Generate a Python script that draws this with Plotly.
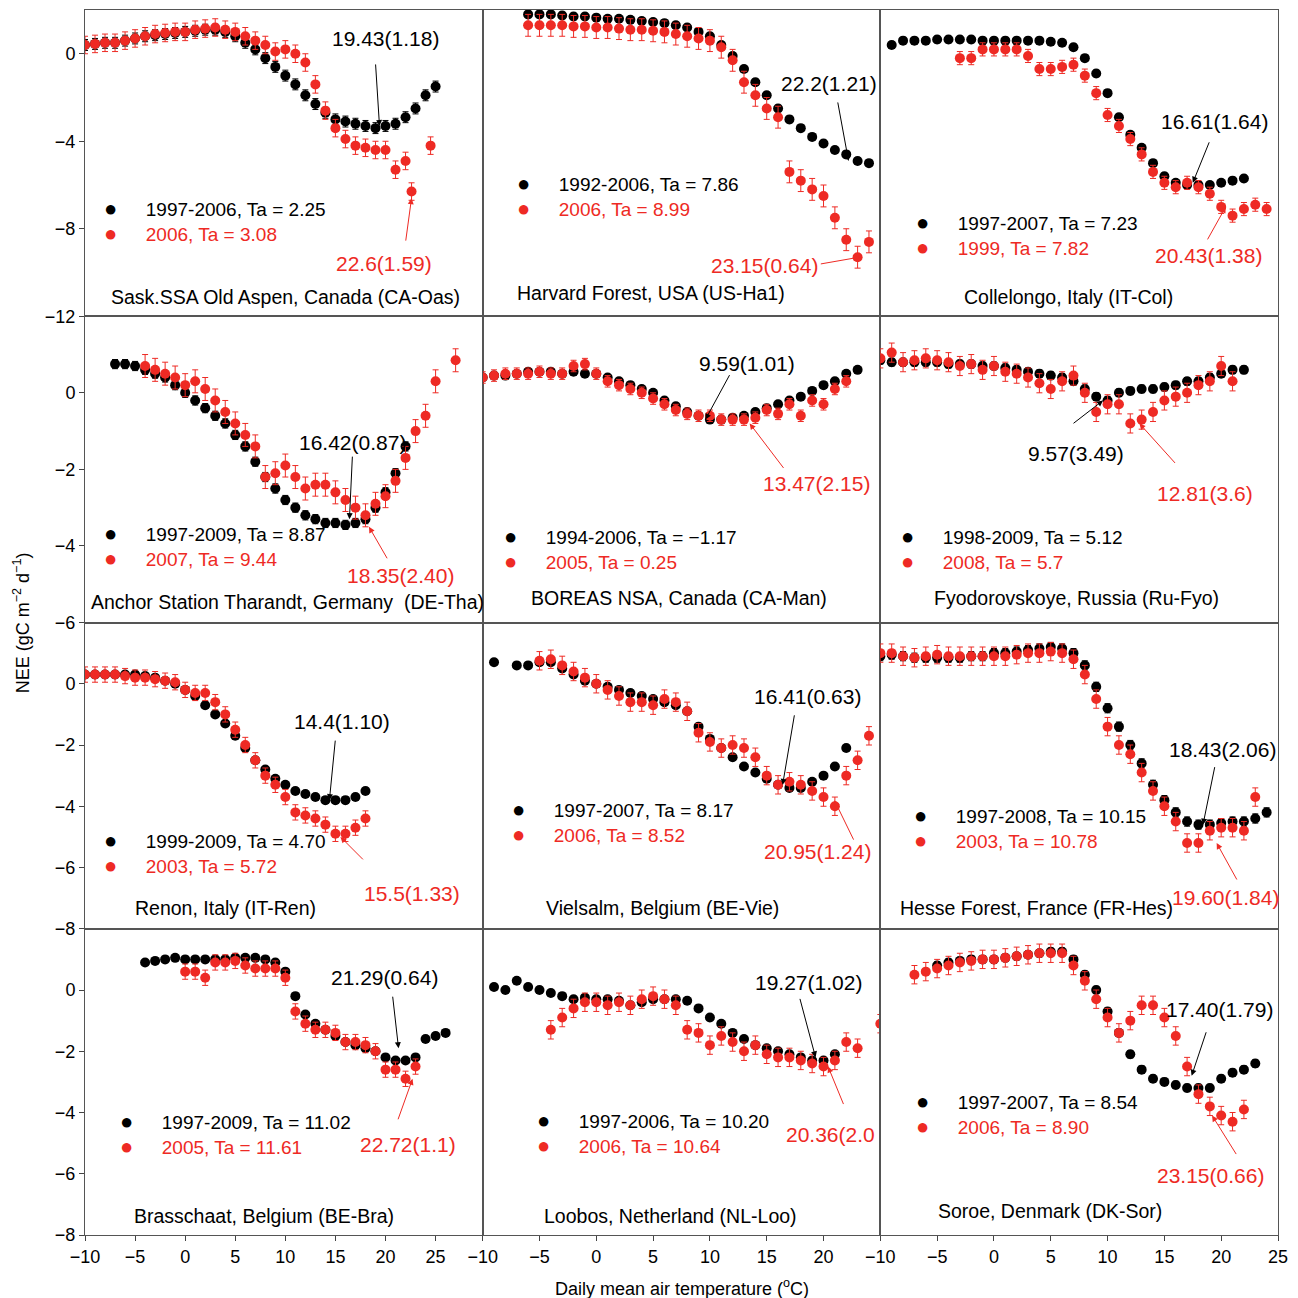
import plotly.graph_objects as go
from plotly.subplots import make_subplots

# ---------------- data (temperature bins, NEE means) ----------------
p1_bx = list(range(-10, 26))
p1_by = [0.4,0.45,0.5,0.5,0.6,0.7,0.8,0.85,0.9,0.95,1.0,1.05,1.1,1.1,1.0,0.8,0.5,0.2,-0.2,-0.6,-1.0,-1.4,-1.9,-2.3,-2.7,-3.0,-3.1,-3.2,-3.3,-3.4,-3.3,-3.2,-2.9,-2.5,-1.9,-1.5]
p1_rx = list(range(-10, 23)) + [22.6, 24.5]
p1_ry = [0.4,0.45,0.5,0.5,0.6,0.7,0.8,0.9,0.95,1.0,1.0,1.1,1.15,1.2,1.1,1.0,0.8,0.6,0.4,0.1,0.2,0.0,-0.4,-1.4,-2.6,-3.4,-3.9,-4.2,-4.3,-4.4,-4.4,-5.3,-4.9,-6.3,-4.2]

p2_bx = list(range(-6, 25))
p2_by = [1.8,1.8,1.8,1.75,1.7,1.7,1.65,1.6,1.6,1.55,1.5,1.45,1.4,1.3,1.2,1.0,0.8,0.4,-0.1,-0.7,-1.3,-1.9,-2.5,-3.0,-3.4,-3.8,-4.1,-4.4,-4.6,-4.9,-5.0]
p2_rx = list(range(-6, 25))
p2_ry = [1.3,1.3,1.3,1.3,1.25,1.25,1.2,1.2,1.15,1.1,1.1,1.05,1.0,0.9,0.8,0.7,0.6,0.3,-0.3,-1.3,-1.9,-2.5,-2.9,-5.4,-5.8,-6.2,-6.5,-7.5,-8.5,-9.3,-8.6]

p3_bx = list(range(-9, 23))
p3_by = [0.4,0.6,0.6,0.6,0.65,0.65,0.65,0.65,0.6,0.6,0.6,0.6,0.6,0.6,0.55,0.5,0.3,-0.2,-0.9,-1.8,-2.9,-3.7,-4.3,-5.0,-5.6,-5.9,-6.0,-6.0,-6.0,-5.9,-5.8,-5.7]
p3_rx = list(range(-3, 25))
p3_ry = [-0.2,-0.2,0.2,0.2,0.2,0.2,-0.1,-0.7,-0.7,-0.6,-0.5,-1.0,-1.8,-2.8,-3.3,-3.9,-4.6,-5.4,-5.9,-6.1,-5.9,-6.1,-6.4,-7.0,-7.4,-7.1,-6.9,-7.1]

p4_bx = list(range(-7, 23))
p4_by = [0.75,0.75,0.7,0.6,0.5,0.4,0.2,0.0,-0.2,-0.4,-0.6,-0.8,-1.1,-1.4,-1.8,-2.2,-2.5,-2.8,-3.0,-3.2,-3.3,-3.4,-3.4,-3.45,-3.4,-3.3,-3.0,-2.6,-2.1,-1.4]
p4_rx = list(range(-4, 26)) + [27]
p4_ry = [0.7,0.6,0.5,0.4,0.2,0.3,0.1,-0.2,-0.5,-0.8,-1.1,-1.4,-2.2,-2.1,-1.9,-2.2,-2.5,-2.4,-2.4,-2.6,-2.8,-3.0,-3.2,-2.9,-2.7,-2.3,-1.7,-1.0,-0.6,0.3,0.85]

p5_bx = list(range(-10, 24))
p5_by = [0.4,0.45,0.45,0.5,0.55,0.55,0.55,0.5,0.55,0.5,0.5,0.4,0.3,0.2,0.1,0.0,-0.2,-0.35,-0.5,-0.6,-0.7,-0.7,-0.65,-0.6,-0.5,-0.4,-0.3,-0.2,-0.1,0.05,0.2,0.3,0.5,0.6]
p5_rx = list(range(-10, 23))
p5_ry = [0.4,0.45,0.5,0.5,0.5,0.55,0.5,0.5,0.7,0.75,0.5,0.3,0.2,0.1,0.0,-0.15,-0.3,-0.45,-0.55,-0.6,-0.6,-0.7,-0.7,-0.7,-0.65,-0.45,-0.55,-0.3,-0.6,-0.2,-0.3,0.1,0.3]

p6_bx = list(range(-10, 23))
p6_by = [0.85,0.8,0.8,0.8,0.8,0.8,0.75,0.75,0.75,0.7,0.7,0.65,0.6,0.55,0.5,0.45,0.4,0.3,0.1,-0.1,-0.2,0.0,0.05,0.1,0.1,0.15,0.2,0.3,0.3,0.4,0.5,0.6,0.6]
p6_rx = list(range(-10, 22))
p6_ry = [0.9,1.05,0.8,0.85,0.9,0.85,0.8,0.7,0.75,0.6,0.7,0.55,0.5,0.4,0.25,0.1,0.3,0.45,0.0,-0.5,-0.3,-0.3,-0.8,-0.7,-0.5,-0.2,-0.1,0.0,0.2,0.3,0.7,0.3]

p7_bx = list(range(-10, 19))
p7_by = [0.3,0.3,0.3,0.3,0.3,0.3,0.25,0.2,0.1,0.0,-0.2,-0.4,-0.7,-1.0,-1.3,-1.7,-2.1,-2.5,-2.8,-3.1,-3.3,-3.5,-3.6,-3.7,-3.8,-3.8,-3.8,-3.7,-3.5]
p7_rx = list(range(-10, 19))
p7_ry = [0.3,0.3,0.3,0.3,0.25,0.2,0.2,0.15,0.1,0.05,-0.2,-0.3,-0.3,-0.6,-1.0,-1.5,-2.0,-2.5,-3.0,-3.3,-3.7,-4.2,-4.3,-4.4,-4.6,-4.9,-4.9,-4.7,-4.4]

p8_bx = [-9,-7,-6,-5,-4,-3,-2,-1,0,1,2,3,4,5,6,7,8,9,10,11,12,13,14,15,16,17,18,19,20,21,22]
p8_by = [0.7,0.6,0.6,0.7,0.7,0.5,0.3,0.1,0.0,-0.1,-0.2,-0.3,-0.4,-0.5,-0.6,-0.7,-0.9,-1.4,-1.8,-2.1,-2.4,-2.7,-2.9,-3.1,-3.3,-3.4,-3.4,-3.2,-3.0,-2.7,-2.1]
p8_rx = list(range(-5, 25))
p8_ry = [0.75,0.8,0.6,0.4,0.2,0.0,-0.2,-0.4,-0.6,-0.6,-0.7,-0.5,-0.6,-0.9,-1.6,-1.9,-2.1,-2.0,-2.1,-2.4,-3.0,-3.3,-3.2,-3.3,-3.5,-3.7,-4.0,-3.0,-2.5,-1.7]

p9_bx = list(range(-10, 25))
p9_by = [0.9,0.95,0.9,0.85,0.85,0.85,0.85,0.85,0.9,0.9,1.0,1.0,1.05,1.1,1.15,1.2,1.15,1.0,0.6,-0.1,-0.8,-1.4,-2.0,-2.6,-3.3,-3.8,-4.2,-4.5,-4.6,-4.6,-4.55,-4.5,-4.5,-4.4,-4.2]
p9_rx = list(range(-10, 24))
p9_ry = [1.0,1.0,0.9,0.85,0.9,0.95,0.9,0.9,0.9,0.9,0.9,0.9,0.95,1.0,1.0,1.05,1.0,0.8,0.3,-0.5,-1.4,-2.0,-2.3,-2.9,-3.5,-4.0,-4.5,-5.2,-5.2,-4.8,-4.7,-4.7,-4.8,-3.7]

p10_bx = list(range(-4, 27))
p10_by = [0.9,0.95,1.0,1.05,1.0,1.0,1.0,1.0,1.0,1.05,1.05,1.05,1.0,0.9,0.6,-0.2,-0.8,-1.1,-1.3,-1.5,-1.7,-1.8,-1.9,-2.0,-2.2,-2.3,-2.3,-2.2,-1.6,-1.5,-1.4]
p10_rx = list(range(0, 24))
p10_ry = [0.6,0.6,0.4,0.9,0.9,0.95,0.8,0.7,0.7,0.7,0.4,-0.7,-1.1,-1.3,-1.3,-1.4,-1.7,-1.7,-1.8,-2.0,-2.6,-2.6,-2.9,-2.5]

p11_bx = list(range(-9, 22))
p11_by = [0.1,0.0,0.3,0.1,0.0,-0.1,-0.2,-0.3,-0.25,-0.3,-0.3,-0.35,-0.5,-0.4,-0.3,-0.3,-0.3,-0.35,-0.6,-0.9,-1.1,-1.4,-1.6,-1.8,-1.9,-2.0,-2.1,-2.2,-2.3,-2.3,-2.1]
p11_rx = list(range(-4, 24)) + [25]
p11_ry = [-1.3,-0.9,-0.6,-0.4,-0.4,-0.5,-0.4,-0.5,-0.3,-0.2,-0.3,-0.5,-1.3,-1.4,-1.8,-1.5,-1.7,-2.0,-1.8,-2.1,-2.2,-2.2,-2.3,-2.4,-2.5,-2.3,-1.7,-1.9,-1.1]

p12_bx = list(range(-5, 24))
p12_by = [0.8,0.9,0.95,1.0,1.0,1.0,1.05,1.1,1.15,1.2,1.25,1.25,1.0,0.5,0.0,-0.7,-1.4,-2.1,-2.6,-2.9,-3.0,-3.1,-3.2,-3.2,-3.2,-2.9,-2.7,-2.6,-2.4]
p12_rx = list(range(-7, 23))
p12_ry = [0.5,0.6,0.7,0.8,0.9,0.95,1.0,1.0,1.05,1.1,1.15,1.2,1.2,1.2,0.8,0.3,-0.3,-0.9,-1.4,-1.0,-0.5,-0.5,-0.9,-1.5,-2.5,-3.4,-3.8,-4.1,-4.3,-3.9]

errors = [(0.25,0.4),(0.15,0.5),(0.15,0.3),(0.12,0.3),(0.08,0.15),(0.1,0.25),
          (0.1,0.25),(0.1,0.3),(0.15,0.3),(0.1,0.25),(0.1,0.3),(0.12,0.3)]

legend_black = ["1997-2006, Ta = 2.25","1992-2006, Ta = 7.86","1997-2007, Ta = 7.23",
                "1997-2009, Ta = 8.87","1994-2006, Ta = \u22121.17","1998-2009, Ta = 5.12",
                "1999-2009, Ta = 4.70","1997-2007, Ta = 8.17","1997-2008, Ta = 10.15",
                "1997-2009, Ta = 11.02","1997-2006, Ta = 10.20","1997-2007, Ta = 8.54"]
legend_red = ["2006, Ta = 3.08","2006, Ta = 8.99","1999, Ta = 7.82","2007, Ta = 9.44",
              "2005, Ta = 0.25","2008, Ta = 5.7","2003, Ta = 5.72","2006, Ta = 8.52",
              "2003, Ta = 10.78","2005, Ta = 11.61","2006, Ta = 10.64","2006, Ta = 8.90"]
site_labels = ["Sask.SSA Old Aspen, Canada (CA-Oas)","Harvard Forest, USA (US-Ha1)","Collelongo, Italy (IT-Col)",
               "Anchor Station Tharandt, Germany  (DE-Tha)","BOREAS NSA, Canada (CA-Man)","Fyodorovskoye, Russia (Ru-Fyo)",
               "Renon, Italy (IT-Ren)","Vielsalm, Belgium (BE-Vie)","Hesse Forest, France (FR-Hes)",
               "Brasschaat, Belgium (BE-Bra)","Loobos, Netherland (NL-Loo)","Soroe, Denmark (DK-Sor)"]
black_opt = ["19.43(1.18)","22.2(1.21)","16.61(1.64)","16.42(0.87)","9.59(1.01)","9.57(3.49)",
             "14.4(1.10)","16.41(0.63)","18.43(2.06)","21.29(0.64)","19.27(1.02)","17.40(1.79)"]
red_opt = ["22.6(1.59)","23.15(0.64)","20.43(1.38)","18.35(2.40)","13.47(2.15)","12.81(3.6)",
           "15.5(1.33)","20.95(1.24)","19.60(1.84)","22.72(1.1)","20.36(2.0","23.15(0.66)"]
black_head = [(19.4,-3.3),(22.2,-4.9),(17.5,-5.9),(16.4,-3.3),(9.6,-0.7),(9.6,-0.2),
              (14.4,-3.8),(16.4,-3.3),(18.4,-4.6),(21.3,-1.9),(19.3,-2.2),(17.4,-2.8)]
red_head = [(22.6,-6.6),(23.15,-9.3),(20.4,-7.0),(18.35,-3.5),(13.5,-0.8),(12.8,-0.8),
            (15.5,-5.0),(20.95,-3.8),(19.6,-5.2),(22.7,-2.9),(20.4,-2.5),(19.2,-4.1)]

series = [(p1_bx,p1_by,p1_rx,p1_ry),(p2_bx,p2_by,p2_rx,p2_ry),(p3_bx,p3_by,p3_rx,p3_ry),
          (p4_bx,p4_by,p4_rx,p4_ry),(p5_bx,p5_by,p5_rx,p5_ry),(p6_bx,p6_by,p6_rx,p6_ry),
          (p7_bx,p7_by,p7_rx,p7_ry),(p8_bx,p8_by,p8_rx,p8_ry),(p9_bx,p9_by,p9_rx,p9_ry),
          (p10_bx,p10_by,p10_rx,p10_ry),(p11_bx,p11_by,p11_rx,p11_ry),(p12_bx,p12_by,p12_rx,p12_ry)]

# ---------------- layout geometry (reference pixels) ----------------
COLS = [85, 482, 880, 1278]
ROWS = [10, 315, 622, 928, 1235]
bt_pos = [(385,38),(829,83),(1214,121),(352,442),(747,362),(1076,453),(342,721),(807,696),(1222,749),(384,977),(808,982),(1219,1009)]
b_off = [(-4,-63),(-11,-60),(17,-42),(3,-64),(25,-46),(-31,24),(6,-61),(12,-71),(12,-59),(-6,-53),(-16,-60),(15,-45)]
rt_pos = [(383,262),(764,264),(1208,254),(400,575),(816,483),(1205,493),(411,893),(817,851),(1225,897),(407,1144),(830,1134),(1210,1175)]
r_off = [(-6,44),(-40,7),(-19,34),(19,33),(35,46),(37,41),(24,24),(20,41),(21,38),(-15,42),(16,39),(25,40)]
leg_pos = [(110,220),(522,195),(922,234),(110,545),(509,548),(907,548),(110,852),(517,821),(920,827),(126,1134),(542,1133),(922,1114)]
lab_pos = [(285,296),(650,292),(1068,296),(287,601),(678,597),(1076,597),(225,907),(662,907),(1036,907),(264,1216),(670,1216),(1050,1211)]

RED = "#ee2a24"
FONT = "Liberation Sans"

fig = make_subplots(rows=4, cols=3, horizontal_spacing=0, vertical_spacing=0)

annotations = []
def dom(r, c, px, py):
    x0, x1 = COLS[c], COLS[c+1]
    y0, y1 = ROWS[r], ROWS[r+1]
    return (px - x0) / (x1 - x0), (y1 - py) / (y1 - y0)

for i, (bx, by, rx, ry) in enumerate(series):
    r, c = divmod(i, 3)
    eb, er = errors[i]
    fig.add_trace(go.Scatter(x=bx, y=by, mode="markers",
                             marker=dict(color="black", size=10),
                             error_y=dict(type="constant", value=eb, color="black", thickness=1, width=3),
                             showlegend=False), row=r+1, col=c+1)
    fig.add_trace(go.Scatter(x=rx, y=ry, mode="markers",
                             marker=dict(color=RED, size=10),
                             error_y=dict(type="constant", value=er, color=RED, thickness=1, width=3),
                             showlegend=False), row=r+1, col=c+1)
    n = i + 1
    xr = "x" if n == 1 else f"x{n}"
    yr = "y" if n == 1 else f"y{n}"
    for txt, pos, col in [(black_opt[i], bt_pos[i], "black"), (red_opt[i], rt_pos[i], RED)]:
        fx, fy = dom(r, c, *pos)
        annotations.append(dict(xref=f"{xr} domain", yref=f"{yr} domain", x=fx, y=fy,
                                xanchor="center", yanchor="middle",
                                text=txt, showarrow=False, font=dict(size=21, color=col, family=FONT)))
    for head, off, col in [(black_head[i], b_off[i], "black"), (red_head[i], r_off[i], RED)]:
        annotations.append(dict(xref=xr, yref=yr, x=head[0], y=head[1], ax=off[0], ay=off[1],
                                text="", showarrow=True, arrowhead=2, arrowsize=1.2,
                                arrowwidth=1, arrowcolor=col))
    lx, ly = leg_pos[i]
    fx, fy = dom(r, c, lx, ly)
    txt = (f"<span style='color:black'><span style='font-size:22px'>\u25cf</span>\u2003\u2002{legend_black[i]}</span><br>"
           f"<span style='color:{RED}'><span style='font-size:22px'>\u25cf</span>\u2003\u2002{legend_red[i]}</span>")
    annotations.append(dict(xref=f"{xr} domain", yref=f"{yr} domain", x=fx, y=fy,
                            xanchor="left", yanchor="middle", xshift=-8, align="left",
                            text=txt, showarrow=False, font=dict(size=19, family=FONT)))
    fx, fy = dom(r, c, *lab_pos[i])
    annotations.append(dict(xref=f"{xr} domain", yref=f"{yr} domain", x=fx, y=fy,
                            xanchor="center", yanchor="middle",
                            text=site_labels[i], showarrow=False,
                            font=dict(size=19.5, color="black", family=FONT)))

y_ranges = [[-12, 2], [-6, 2], [-8, 2], [-8, 2]]
y_ticks = [[0, -4, -8, -12], [0, -2, -4, -6], [0, -2, -4, -6, -8], [0, -2, -4, -6, -8]]
x_ranges = [[-10, 29.7], [-10, 25], [-10, 25]]
x_ticks = [[-10, -5, 0, 5, 10, 15, 20, 25], [-10, -5, 0, 5, 10, 15, 20], [-10, -5, 0, 5, 10, 15, 20, 25]]

def lab(v):
    return ("\u2212" + str(-v)) if v < 0 else str(v)

for r in range(4):
    for c in range(3):
        fig.update_yaxes(range=y_ranges[r], tickvals=y_ticks[r],
                         ticktext=[lab(v) for v in y_ticks[r]],
                         showticklabels=(c == 0), ticks="outside" if c == 0 else "",
                         ticklen=5, showgrid=False, zeroline=False, showline=True, mirror=True,
                         linecolor="#555", linewidth=1, row=r+1, col=c+1)
        fig.update_xaxes(range=x_ranges[c], tickvals=x_ticks[c],
                         ticktext=[lab(v) for v in x_ticks[c]],
                         showticklabels=(r == 3), ticks="outside" if r == 3 else "",
                         ticklen=5, showgrid=False, zeroline=False, showline=True, mirror=True,
                         linecolor="#555", linewidth=1, row=r+1, col=c+1)

annotations.append(dict(xref="paper", yref="paper", x=-0.053, y=0.5, textangle=-90,
                        xanchor="center", yanchor="middle",
                        text="NEE (gC m<sup>\u22122</sup> d<sup>\u22121</sup>)", showarrow=False,
                        font=dict(size=18, family=FONT)))
annotations.append(dict(xref="paper", yref="paper", x=0.5, y=-0.043, xanchor="center", yanchor="middle",
                        text="Daily mean air temperature (<sup>o</sup>C)", showarrow=False,
                        font=dict(size=18, family=FONT)))

fig.update_layout(width=1290, height=1290, margin=dict(l=77, r=20, t=2, b=63),
                  plot_bgcolor="white", paper_bgcolor="white",
                  font=dict(family=FONT, size=18, color="black"),
                  annotations=tuple(annotations))
fig.write_html("out.html")
